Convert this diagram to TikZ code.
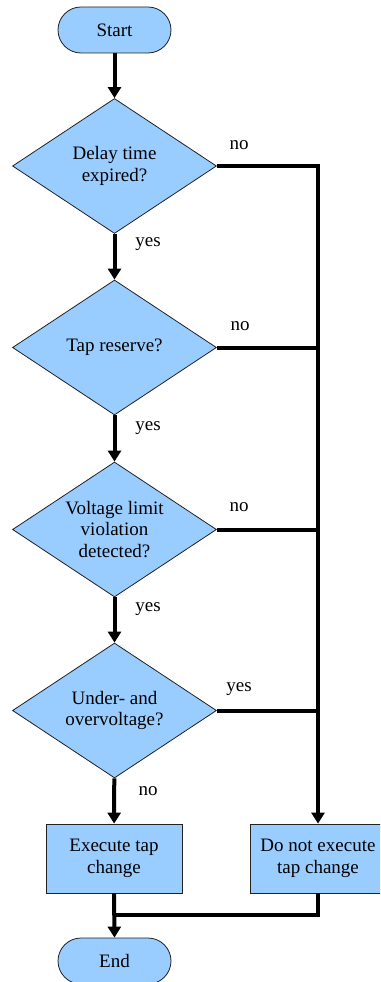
\documentclass[tikz,border=0pt]{standalone}
\usepackage{fontspec}
\setmainfont{Liberation Serif}
\newfontfamily\diafont{Liberation Serif}
\usetikzlibrary{shapes.geometric,arrows.meta}
\definecolor{boxfill}{HTML}{99CCFF}
\definecolor{boxline}{HTML}{222222}
\tikzset{
  base/.style={fill=boxfill,draw=boxline,line width=0.8pt,font=\diafont\fontsize{19}{21.5}\selectfont,align=center,text=black},
  term/.style={base,rectangle,rounded corners=23pt,minimum width=113pt,minimum height=46pt,inner sep=0pt},
  decision/.style={base,diamond,shape aspect=1.51,minimum width=204pt,minimum height=135pt,inner sep=0pt},
  proc/.style={base,rectangle,minimum width=136pt,minimum height=69pt,inner sep=0pt},
  conn/.style={line width=4pt,black},
  arr/.style={conn,-{Triangle[width=13pt,length=11pt]}},
  lbl/.style={font=\diafont\fontsize{19}{21.5}\selectfont,inner sep=0pt,text=black},
}
\begin{document}
\begin{tikzpicture}[x=1pt,y=-1pt]
\useasboundingbox (0,0) rectangle (380,982);
\clip (0,0) rectangle (380,982);
\node[term] (start) at (114.5,30) {Start};
\node[decision] (d1) at (114.5,166) {Delay time\\expired?};
\node[decision] (d2) at (114.5,347.5) {Tap reserve?};
\node[decision] (d3) at (114.5,529.5) {Voltage limit\\violation\\detected?};
\node[decision] (d4) at (114.5,710.5) {Under- and\\overvoltage?};
\node[proc] (ex) at (114,858.5) {Execute tap\\change};
\node[proc] (dn) at (318,858.5) {Do not execute\\tap change};
\node[term] (end) at (114.5,961) {End};
\coordinate (j) at (114,915);
\draw[arr] (start) -- (d1);
\draw[arr] (d1) -- (d2);
\draw[arr] (d2) -- (d3);
\draw[arr] (d3) -- (d4);
\draw[arr] (d4) -- (ex);
\draw[arr] (d1.east) -| (dn.north);
\draw[conn] (d2.east) -- (d2.east -| dn.north);
\draw[conn] (d3.east) -- (d3.east -| dn.north);
\draw[conn] (d4.east) -- (d4.east -| dn.north);
\draw[conn] (dn.south) |- (j);
\draw[arr] (ex.south) -- (end.north);
\node[lbl] (l1) at (239,145) {no};
\node[lbl] (l2) at (240,326) {no};
\node[lbl] (l3) at (239,507) {no};
\node[lbl] (l4) at (239,689) {yes};
\node[lbl] (y1) at (148,244) {yes};
\node[lbl] (y2) at (148,428) {yes};
\node[lbl] (y3) at (148,609) {yes};
\node[lbl] (n4) at (148,791) {no};
\end{tikzpicture}
\end{document}
